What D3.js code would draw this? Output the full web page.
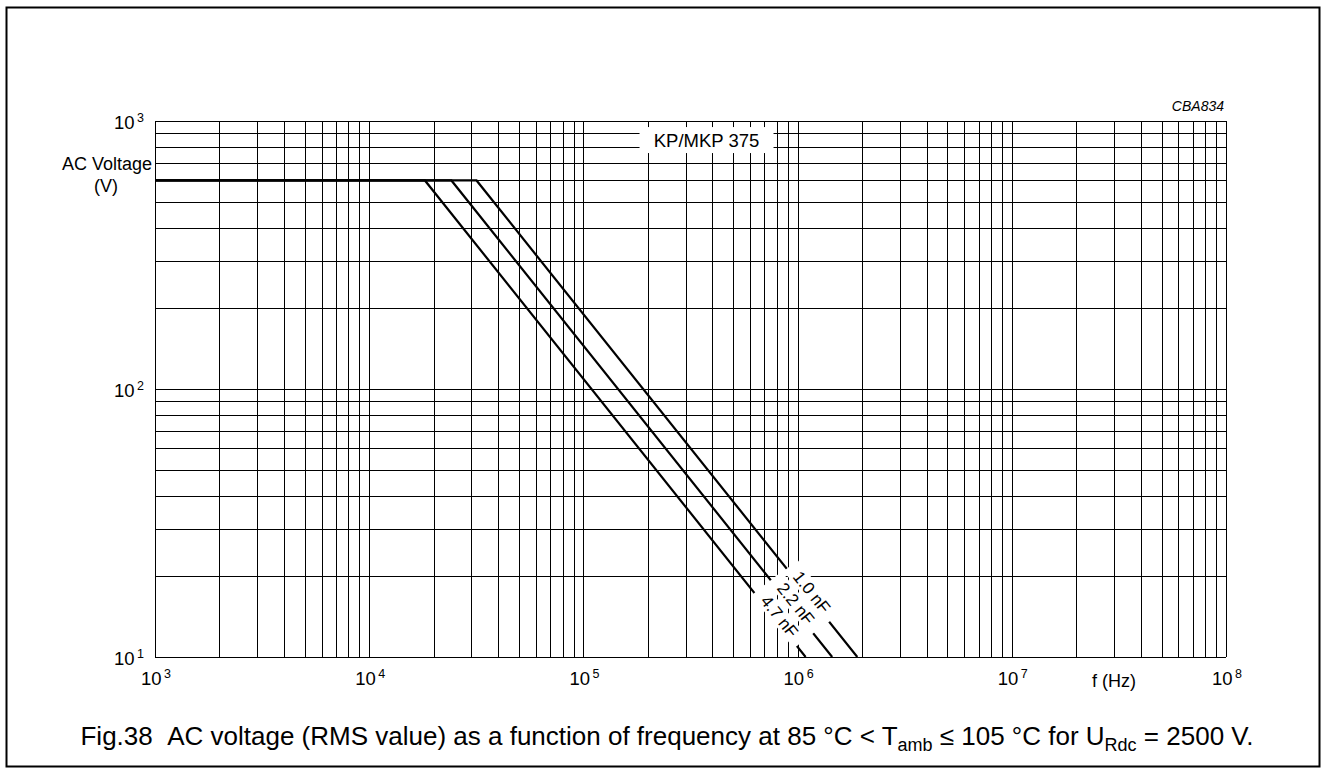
<!DOCTYPE html>
<html>
<head>
<meta charset="utf-8">
<script src="https://cdn.jsdelivr.net/npm/d3@7"></script>
<style>
  html, body { margin: 0; padding: 0; background: #fff; }
  svg { display: block; font-family: "Liberation Sans", Arial, Helvetica, sans-serif; }
</style>
</head>
<body>
<svg id="chart" width="1328" height="775"></svg>
<script>
// ---- data ----
const xDecades = [1e3, 1e4, 1e5, 1e6, 1e7, 1e8];
const xDecadeExponents = ["3", "4", "5", "6", "7", "8"];
const yDecades = [10, 100, 1000];
const yDecadeExponents = ["1", "2", "3"];

const seriesNames = ["1.0 nF", "2.2 nF", "4.7 nF"];
const freq_1_0nF = [1e3, 3.17e4, 1.90e6];
const volt_1_0nF = [600, 600, 10];
const freq_2_2nF = [1e3, 2.42e4, 1.45e6];
const volt_2_2nF = [600, 600, 10];
const freq_4_7nF = [1e3, 1.82e4, 1.09e6];
const volt_4_7nF = [600, 600, 10];
const labelVoltages = [17.0, 15.4, 13.8];

const seriesFreqs = [freq_1_0nF, freq_2_2nF, freq_4_7nF];
const seriesVolts = [volt_1_0nF, volt_2_2nF, volt_4_7nF];

// ---- layout ----
const svg = d3.select("#chart");
const L = 155, R = 1226, T = 121, B = 657;

const x = d3.scaleLog().domain([1e3, 1e8]).range([L, R]);
const y = d3.scaleLog().domain([10, 1000]).range([B, T]);

// frame
svg.append("rect").attr("x", 6.5).attr("y", 7.5).attr("width", 1313).attr("height", 759)
  .attr("fill", "none").attr("stroke", "#000").attr("stroke-width", 2);

// grid
const xGrid = [];
for (let k = 3; k < 8; k++) for (let m = 1; m <= 9; m++) xGrid.push(m * Math.pow(10, k));
xGrid.push(1e8);
const yGrid = [];
for (let k = 1; k < 3; k++) for (let m = 1; m <= 9; m++) yGrid.push(m * Math.pow(10, k));
yGrid.push(1000);

const grid = svg.append("g").attr("stroke", "#000").attr("stroke-width", 1).attr("shape-rendering", "crispEdges");
grid.selectAll("line.v").data(xGrid).enter().append("line")
  .attr("x1", d => Math.round(x(d)) + 0.5).attr("x2", d => Math.round(x(d)) + 0.5)
  .attr("y1", T).attr("y2", B);
grid.selectAll("line.h").data(yGrid).enter().append("line")
  .attr("y1", d => Math.round(y(d)) + 0.5).attr("y2", d => Math.round(y(d)) + 0.5)
  .attr("x1", L).attr("x2", R);

// curves
svg.append("clipPath").attr("id", "plotclip").append("rect")
  .attr("x", L).attr("y", T).attr("width", R - L).attr("height", B - T);
const line = d3.line().x(d => x(d[0])).y(d => y(d[1]));
svg.append("g").attr("clip-path", "url(#plotclip)")
  .selectAll("path").data(seriesFreqs.map((fs, i) => fs.map((f, j) => [f, seriesVolts[i][j]])))
  .enter().append("path")
  .attr("d", line).attr("fill", "none").attr("stroke", "#000").attr("stroke-width", 2.2)
  .attr("stroke-linejoin", "miter");

// curve labels, rotated along the 1/f slope
const angle = Math.atan2(y(10) - y(100), x(1e6) - x(1e5)) * 180 / Math.PI;
seriesNames.forEach((name, i) => {
  const fs = seriesFreqs[i], vs = seriesVolts[i];
  const v = labelVoltages[i];
  const f = vs[2] * fs[2] / v;   // falling part: V = V_end * f_end / f
  const g = svg.append("g").attr("transform", `translate(${x(f)},${y(v)}) rotate(${angle})`);
  g.append("rect").attr("x", -34).attr("y", -14).attr("width", 68).attr("height", 18).attr("fill", "#fff");
  g.append("text").attr("x", 0).attr("y", 1).attr("text-anchor", "middle")
    .attr("font-size", 17).text(name);
});

// KP/MKP 375 box
const kx = x(3.757e5), ky = y(849);
svg.append("rect").attr("x", kx - 67).attr("y", ky - 13).attr("width", 134).attr("height", 26).attr("fill", "#fff");
svg.append("text").attr("x", kx).attr("y", ky + 6.5).attr("text-anchor", "middle")
  .attr("font-size", 18.5).text("KP/MKP 375");

// x tick labels
xDecades.forEach((d, i) => {
  const t = svg.append("text").attr("x", x(d) + 1).attr("y", 685).attr("text-anchor", "middle").attr("font-size", 18.5);
  t.append("tspan").text("10");
  t.append("tspan").attr("dx", 2.5).attr("dy", -7).attr("font-size", 12.5).text(xDecadeExponents[i]);
});
// y tick labels
yDecades.forEach((d, i) => {
  const t = svg.append("text").attr("x", 144).attr("y", y(d) + 8).attr("text-anchor", "end").attr("font-size", 18.5);
  t.append("tspan").text("10");
  t.append("tspan").attr("dx", 2.5).attr("dy", -7).attr("font-size", 12.5).text(yDecadeExponents[i]);
});

// axis titles
svg.append("text").attr("x", 152).attr("y", 170).attr("text-anchor", "end").attr("font-size", 18).text("AC Voltage");
svg.append("text").attr("x", 106).attr("y", 192).attr("text-anchor", "middle").attr("font-size", 18).text("(V)");
svg.append("text").attr("x", 1114).attr("y", 687).attr("text-anchor", "middle").attr("font-size", 18).text("f (Hz)");
svg.append("text").attr("x", 1224).attr("y", 111).attr("text-anchor", "end").attr("font-size", 14)
  .attr("font-style", "italic").text("CBA834");

// caption
const cap = svg.append("text").attr("x", 667).attr("y", 745).attr("text-anchor", "middle").attr("font-size", 26);
cap.append("tspan").text("Fig.38\u00a0\u00a0AC voltage (RMS value) as a function of frequency at 85 \u00b0C < T");
cap.append("tspan").attr("dy", 6).attr("font-size", 18).text("amb");
cap.append("tspan").attr("dy", -6).text(" \u2264 105 \u00b0C for U");
cap.append("tspan").attr("dy", 6).attr("font-size", 18).text("Rdc");
cap.append("tspan").attr("dy", -6).text(" = 2500 V.");
</script>
</body>
</html>
